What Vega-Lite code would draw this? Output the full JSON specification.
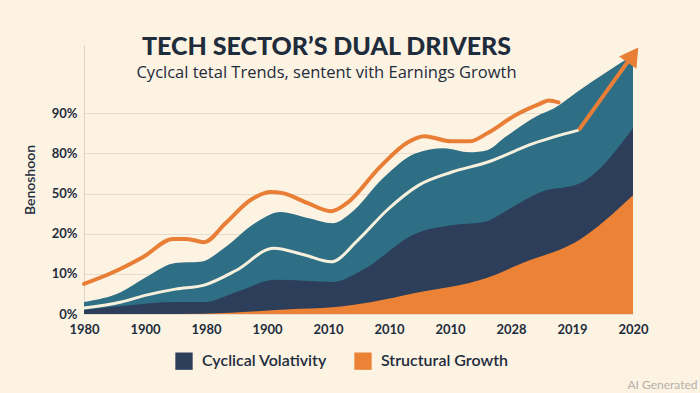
{
  "$schema": "https://vega.github.io/schema/vega-lite/v6.json",
  "width": 549,
  "height": 269,
  "autosize": "none",
  "padding": {"left": 84, "top": 45, "right": 67, "bottom": 79},
  "background": "#fcf3e3",
  "config": {
    "view": {"stroke": null},
    "font": "Lato"
  },
  "title": {
    "text": "TECH SECTOR’S DUAL DRIVERS",
    "subtitle": "\u00a0\u00a0\u00a0Cyclcal tetal Trends, sentent vith Earnings Growth",
    "anchor": "middle",
    "frame": "group",
    "dx": -32,
    "offset": -36,
    "fontSize": 25,
    "fontWeight": 900,
    "color": "#1f2c3c",
    "subtitleFont": "Open Sans",
    "subtitleFontSize": 16.5,
    "subtitleColor": "#1f2c3c",
    "subtitlePadding": 5
  },
  "data": {
    "values": [
      {"series": "Upper Band", "t": 0, "v": 0.3},
      {"series": "Upper Band", "t": 0.61, "v": 0.55},
      {"series": "Upper Band", "t": 1.02, "v": 0.92},
      {"series": "Upper Band", "t": 1.5, "v": 1.27},
      {"series": "Upper Band", "t": 1.91, "v": 1.3},
      {"series": "Upper Band", "t": 2.32, "v": 1.67},
      {"series": "Upper Band", "t": 2.8, "v": 2.26},
      {"series": "Upper Band", "t": 3.22, "v": 2.54},
      {"series": "Upper Band", "t": 3.67, "v": 2.39},
      {"series": "Upper Band", "t": 4.08, "v": 2.26},
      {"series": "Upper Band", "t": 4.37, "v": 2.51},
      {"series": "Upper Band", "t": 4.9, "v": 3.38},
      {"series": "Upper Band", "t": 5.43, "v": 4.0},
      {"series": "Upper Band", "t": 5.9, "v": 4.13},
      {"series": "Upper Band", "t": 6.32, "v": 4.03},
      {"series": "Upper Band", "t": 6.61, "v": 4.08},
      {"series": "Upper Band", "t": 6.9, "v": 4.4},
      {"series": "Upper Band", "t": 7.45, "v": 4.95},
      {"series": "Upper Band", "t": 7.7, "v": 5.12},
      {"series": "Upper Band", "t": 8.1, "v": 5.55},
      {"series": "Upper Band", "t": 9.0, "v": 6.45},
      {"series": "Cyclical Volativity", "t": 0, "v": 0.1},
      {"series": "Cyclical Volativity", "t": 0.74, "v": 0.22},
      {"series": "Cyclical Volativity", "t": 1.5, "v": 0.3},
      {"series": "Cyclical Volativity", "t": 1.97, "v": 0.3},
      {"series": "Cyclical Volativity", "t": 2.5, "v": 0.55},
      {"series": "Cyclical Volativity", "t": 3.14, "v": 0.85},
      {"series": "Cyclical Volativity", "t": 4.08, "v": 0.8},
      {"series": "Cyclical Volativity", "t": 4.56, "v": 1.09},
      {"series": "Cyclical Volativity", "t": 5.43, "v": 2.0},
      {"series": "Cyclical Volativity", "t": 6.02, "v": 2.21},
      {"series": "Cyclical Volativity", "t": 6.55, "v": 2.29},
      {"series": "Cyclical Volativity", "t": 7.02, "v": 2.66},
      {"series": "Cyclical Volativity", "t": 7.48, "v": 3.03},
      {"series": "Cyclical Volativity", "t": 8.14, "v": 3.26},
      {"series": "Cyclical Volativity", "t": 9.0, "v": 4.63},
      {"series": "Structural Growth", "t": 0, "v": 0},
      {"series": "Structural Growth", "t": 1.5, "v": 0},
      {"series": "Structural Growth", "t": 2.4, "v": 0.03},
      {"series": "Structural Growth", "t": 3.37, "v": 0.12},
      {"series": "Structural Growth", "t": 4.08, "v": 0.17},
      {"series": "Structural Growth", "t": 4.72, "v": 0.3},
      {"series": "Structural Growth", "t": 5.43, "v": 0.52},
      {"series": "Structural Growth", "t": 6.61, "v": 0.9},
      {"series": "Structural Growth", "t": 7.19, "v": 1.27},
      {"series": "Structural Growth", "t": 8.11, "v": 1.84},
      {"series": "Structural Growth", "t": 9.0, "v": 2.96},
      {"series": "Trend", "t": 0, "v": 0.15},
      {"series": "Trend", "t": 0.61, "v": 0.3},
      {"series": "Trend", "t": 1.02, "v": 0.47},
      {"series": "Trend", "t": 1.5, "v": 0.62},
      {"series": "Trend", "t": 1.97, "v": 0.72},
      {"series": "Trend", "t": 2.5, "v": 1.09},
      {"series": "Trend", "t": 3.11, "v": 1.64},
      {"series": "Trend", "t": 3.62, "v": 1.47},
      {"series": "Trend", "t": 4.05, "v": 1.3},
      {"series": "Trend", "t": 4.49, "v": 1.84},
      {"series": "Trend", "t": 4.97, "v": 2.59},
      {"series": "Trend", "t": 5.49, "v": 3.21},
      {"series": "Trend", "t": 6.02, "v": 3.53},
      {"series": "Trend", "t": 6.61, "v": 3.78},
      {"series": "Trend", "t": 7.37, "v": 4.25},
      {"series": "Trend", "t": 8.11, "v": 4.58},
      {"series": "Sentiment", "t": 0, "v": 0.75},
      {"series": "Sentiment", "t": 0.45, "v": 1.02},
      {"series": "Sentiment", "t": 0.97, "v": 1.42},
      {"series": "Sentiment", "t": 1.46, "v": 1.87},
      {"series": "Sentiment", "t": 1.68, "v": 1.87},
      {"series": "Sentiment", "t": 1.97, "v": 1.79},
      {"series": "Sentiment", "t": 2.32, "v": 2.26},
      {"series": "Sentiment", "t": 2.73, "v": 2.84},
      {"series": "Sentiment", "t": 3.06, "v": 3.04},
      {"series": "Sentiment", "t": 3.26, "v": 3.01},
      {"series": "Sentiment", "t": 3.67, "v": 2.76},
      {"series": "Sentiment", "t": 4.05, "v": 2.56},
      {"series": "Sentiment", "t": 4.31, "v": 2.76},
      {"series": "Sentiment", "t": 4.85, "v": 3.66},
      {"series": "Sentiment", "t": 5.31, "v": 4.28},
      {"series": "Sentiment", "t": 5.58, "v": 4.43},
      {"series": "Sentiment", "t": 6.02, "v": 4.3},
      {"series": "Sentiment", "t": 6.32, "v": 4.3},
      {"series": "Sentiment", "t": 6.61, "v": 4.5},
      {"series": "Sentiment", "t": 7.07, "v": 4.95},
      {"series": "Sentiment", "t": 7.45, "v": 5.22},
      {"series": "Sentiment", "t": 7.62, "v": 5.32},
      {"series": "Sentiment", "t": 7.78, "v": 5.27},
      {"series": "Arrow", "t": 8.11, "v": 4.58},
      {"series": "Arrow", "t": 8.96, "v": 6.38},
      {"series": "Arrowhead", "t": 9.0, "v": 6.45}
    ]
  },
  "encoding": {
    "x": {
      "field": "t",
      "type": "quantitative",
      "scale": {"domain": [0, 9], "nice": false, "zero": false},
      "axis": {
        "values": [0, 1, 2, 3, 4, 5, 6, 7, 8, 9],
        "labelExpr": "['1980','1900','1980','1900','2010','2010','2010','2028','2019','2020'][datum.value]",
        "grid": false,
        "domain": false,
        "ticks": false,
        "labelPadding": 9,
        "labelFontSize": 13,
        "labelFontWeight": "bold",
        "labelColor": "#1f2c3c",
        "labelFlush": false,
        "title": "AI Generated",
        "titleFontSize": 12,
        "titleFontWeight": "normal",
        "titleColor": "#b5b0a8",
        "titleAnchor": "end",
        "titleAlign": "right",
        "titleX": 613,
        "titleY": 74,
        "titleBaseline": "alphabetic"
      }
    },
    "y": {
      "field": "v",
      "type": "quantitative",
      "stack": null,
      "scale": {"domain": [0, 6.7], "nice": false},
      "axis": {
        "values": [0, 1, 2, 3, 4, 5],
        "labelExpr": "['0%','10%','20%','50%','80%','90%'][datum.value]",
        "grid": true,
        "gridColor": "#e6dccb",
        "gridWidth": 1,
        "domain": true,
        "domainColor": "#ddd3c2",
        "ticks": false,
        "labelPadding": 7,
        "labelFontSize": 13,
        "labelFontWeight": "bold",
        "labelColor": "#1f2c3c",
        "title": "Benoshoon",
        "titleFontSize": 14,
        "titleFontWeight": 600,
        "titleColor": "#1f2c3c",
        "titlePadding": 14
      }
    }
  },
  "layer": [
    {
      "transform": [{"filter": "datum.series == 'Upper Band'"}],
      "mark": {"type": "area", "interpolate": "monotone", "color": "#2f6f86"}
    },
    {
      "transform": [{"filter": "datum.series == 'Cyclical Volativity' || datum.series == 'Structural Growth'"}],
      "mark": {"type": "area", "interpolate": "monotone", "opacity": 1},
      "encoding": {
        "color": {
          "field": "series",
          "type": "nominal",
          "scale": {"domain": ["Cyclical Volativity", "Structural Growth"], "range": ["#2c3e5a", "#eb8236"]},
          "legend": {
            "title": null,
            "orient": "none",
            "direction": "horizontal",
            "legendX": 91,
            "legendY": 307,
            "symbolType": "square",
            "symbolSize": 300,
            "symbolStrokeWidth": 0,
            "symbolOpacity": 1,
            "labelFontSize": 16,
            "labelFontWeight": 600,
            "labelColor": "#1f2c3c",
            "labelOffset": 9,
            "columnPadding": 27
          }
        }
      }
    },
    {
      "transform": [{"filter": "datum.series == 'Trend'"}],
      "mark": {"type": "line", "interpolate": "monotone", "color": "#f7f0dd", "strokeWidth": 3}
    },
    {
      "transform": [{"filter": "datum.series == 'Sentiment'"}],
      "mark": {"type": "line", "interpolate": "monotone", "color": "#e97f36", "strokeWidth": 4, "strokeCap": "round"}
    },
    {
      "transform": [{"filter": "datum.series == 'Arrow'"}],
      "mark": {"type": "line", "color": "#e97f36", "strokeWidth": 4}
    },
    {
      "transform": [{"filter": "datum.series == 'Arrowhead'"}],
      "mark": {"type": "point", "shape": "triangle-up", "filled": true, "color": "#e97f36", "size": 450, "angle": 35, "opacity": 1}
    }
  ]
}
